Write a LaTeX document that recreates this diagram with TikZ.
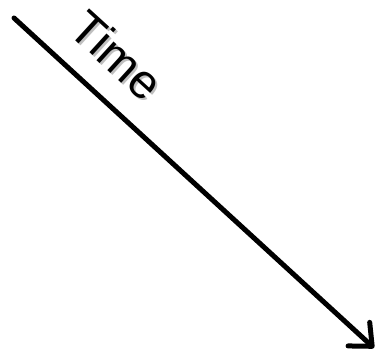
\documentclass[tikz,border=0pt]{standalone}
\usepackage{fontspec}
\setmainfont{Liberation Sans}
\usetikzlibrary{arrows.meta}
\begin{document}
\begin{tikzpicture}[x=1pt,y=1pt,
  timearrow/.style={line width=5pt, line cap=round,
    -{Straight Barb[length=18pt,width=32pt,line width=5pt,line cap=round,round]}},
  label/.style={font=\fontsize{48}{48}\selectfont, inner sep=0pt, rotate=-42.4}]
\useasboundingbox (0,0) rectangle (384,361);
\coordinate (s) at (14,343);
\coordinate (e) at (374,13);
\draw[timearrow] (s) -- (e);
\node[label, text=black!25] (ts) at (119,304) {Time};
\node[label] (t) at (117,306) {Time};
\end{tikzpicture}
\end{document}
